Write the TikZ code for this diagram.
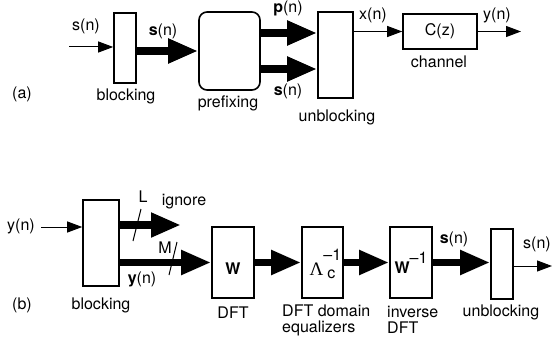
\documentclass[tikz,border=0pt]{standalone}
\usepackage{fontspec}
\setmainfont{TeX Gyre Heros}
\newfontfamily\grkfont{Liberation Serif}
\usetikzlibrary{arrows.meta}

\begin{document}
\begin{tikzpicture}[
    x=1pt, y=-1pt,
    font=\fontsize{16}{16}\selectfont,
    blk/.style={draw, line width=1.6pt, inner sep=0pt},
    lbl/.style={inner sep=0pt},
    fat/.style={line width=7.5pt, -{Triangle[length=30pt, width=23pt]}},
    thin/.style={line width=1pt, -{Triangle[length=15pt, width=11pt]}},
    cut/.style={line width=1pt},
]
\useasboundingbox (0,0) rectangle (553,339);

% (a) transmitter and channel
\node[lbl] (tagA) at (22,94) {(a)};
\node[blk, minimum width=22pt, minimum height=70pt] (blk1) at (125,48) {};
\node[blk, rounded corners=8pt, minimum width=61pt, minimum height=78pt] (pre) at (229.5,51) {};
\node[blk, minimum width=35pt, minimum height=86pt] (ub1) at (335.5,55) {};
\node[blk, minimum width=74pt, minimum height=35pt] (chan) at (440,31.5) {C(z)};

\node[lbl] (blk1lbl) at (126,96) {blocking};
\node[lbl] (prelbl) at (228,103) {prefixing};
\node[lbl] (ub1lbl) at (337,117) {unblocking};
\node[lbl] (chanlbl) at (439,62) {channel};

\coordinate (in1) at (69,47);
\coordinate (pn) at ([yshift=18pt]pre.east);
\coordinate (sn) at ([yshift=-18pt]pre.east);
\coordinate (out1) at (521,31.5);

\draw[thin] (in1) -- (in1 -| blk1.west);
\draw[fat] (blk1.east |- pre.west) -- (pre.west);
\draw[fat] (pn) -- (pn -| ub1.west);
\draw[fat] (sn) -- (sn -| ub1.west);
\draw[thin] (ub1.east |- chan.west) -- (chan.west);
\draw[thin] (chan.east) -- (out1);

\node[lbl] (sin1) at (86,26) {s(n)};
\node[lbl] (sblk) at (163,31) {\textbf{s}(n)};
\node[lbl] (plbl) at (288,8) {\textbf{p}(n)};
\node[lbl] (slbl) at (288,91) {\textbf{s}(n)};
\node[lbl] (xlbl) at (373,15) {x(n)};
\node[lbl] (ylbl) at (497,15) {y(n)};

% (b) receiver
\node[lbl] (tagB) at (22,305) {(b)};
\node[blk, minimum width=36pt, minimum height=86pt] (blk2) at (101,243) {};
\node[blk, minimum width=42pt, minimum height=71pt, text height=23pt, text depth=0pt] (dft) at (233,262.5) {\textbf{W}};
\node[blk, minimum width=41pt, minimum height=71pt, text height=25pt, text depth=0pt] (eq) at (322.5,262.5)
    {{\grkfont\fontsize{19}{19}\selectfont Λ}\rlap{\raisebox{15pt}{--1}}\hspace{4pt}\raisebox{-3pt}{c}};
\node[blk, minimum width=42pt, minimum height=71pt, text height=21pt, text depth=0pt] (idft) at (411,262.5)
    {\textbf{W}\raisebox{10pt}{--1}};
\node[blk, minimum width=22pt, minimum height=70pt] (ub2) at (502,264) {};

\node[lbl] (blk2lbl) at (101,305) {blocking};
\node[lbl] (dftlbl) at (233,313) {DFT};
\node[lbl, align=left, anchor=west] (eqlbl) at (282,320) {DFT domain\\equalizers};
\node[lbl, align=left, anchor=west] (idftlbl) at (387,320) {inverse\\DFT};
\node[lbl] (ub2lbl) at (501,312) {unblocking};

\coordinate (in2) at (41,227);
\coordinate (ign) at (181,225);
\coordinate (out2) at (552,266);

\draw[thin] (in2) -- (in2 -| blk2.west);
\draw[fat] (blk2.east |- ign) -- (ign);
\draw[fat] (blk2.east |- dft.west) -- (dft.west);
\draw[fat] (dft) -- (eq);
\draw[fat] (eq) -- (idft);
\draw[fat] (idft.east) -- (idft.east -| ub2.west);
\draw[thin] (ub2.east |- out2) -- (out2);

% slashes
\draw[cut] (133,241) -- (141,209);
\draw[cut] (169,275) -- (177,242);

\node[lbl] (yin) at (21,226) {y(n)};
\node[lbl] (Llbl) at (143,197) {L};
\node[lbl] (ignlbl) at (184,202) {ignore};
\node[lbl] (Mlbl) at (165,248) {M};
\node[lbl] (yblk) at (142,279) {\textbf{y}(n)};
\node[lbl] (sidft) at (454,239) {\textbf{s}(n)};
\node[lbl] (sout) at (537,244) {s(n)};
\end{tikzpicture}
\end{document}
